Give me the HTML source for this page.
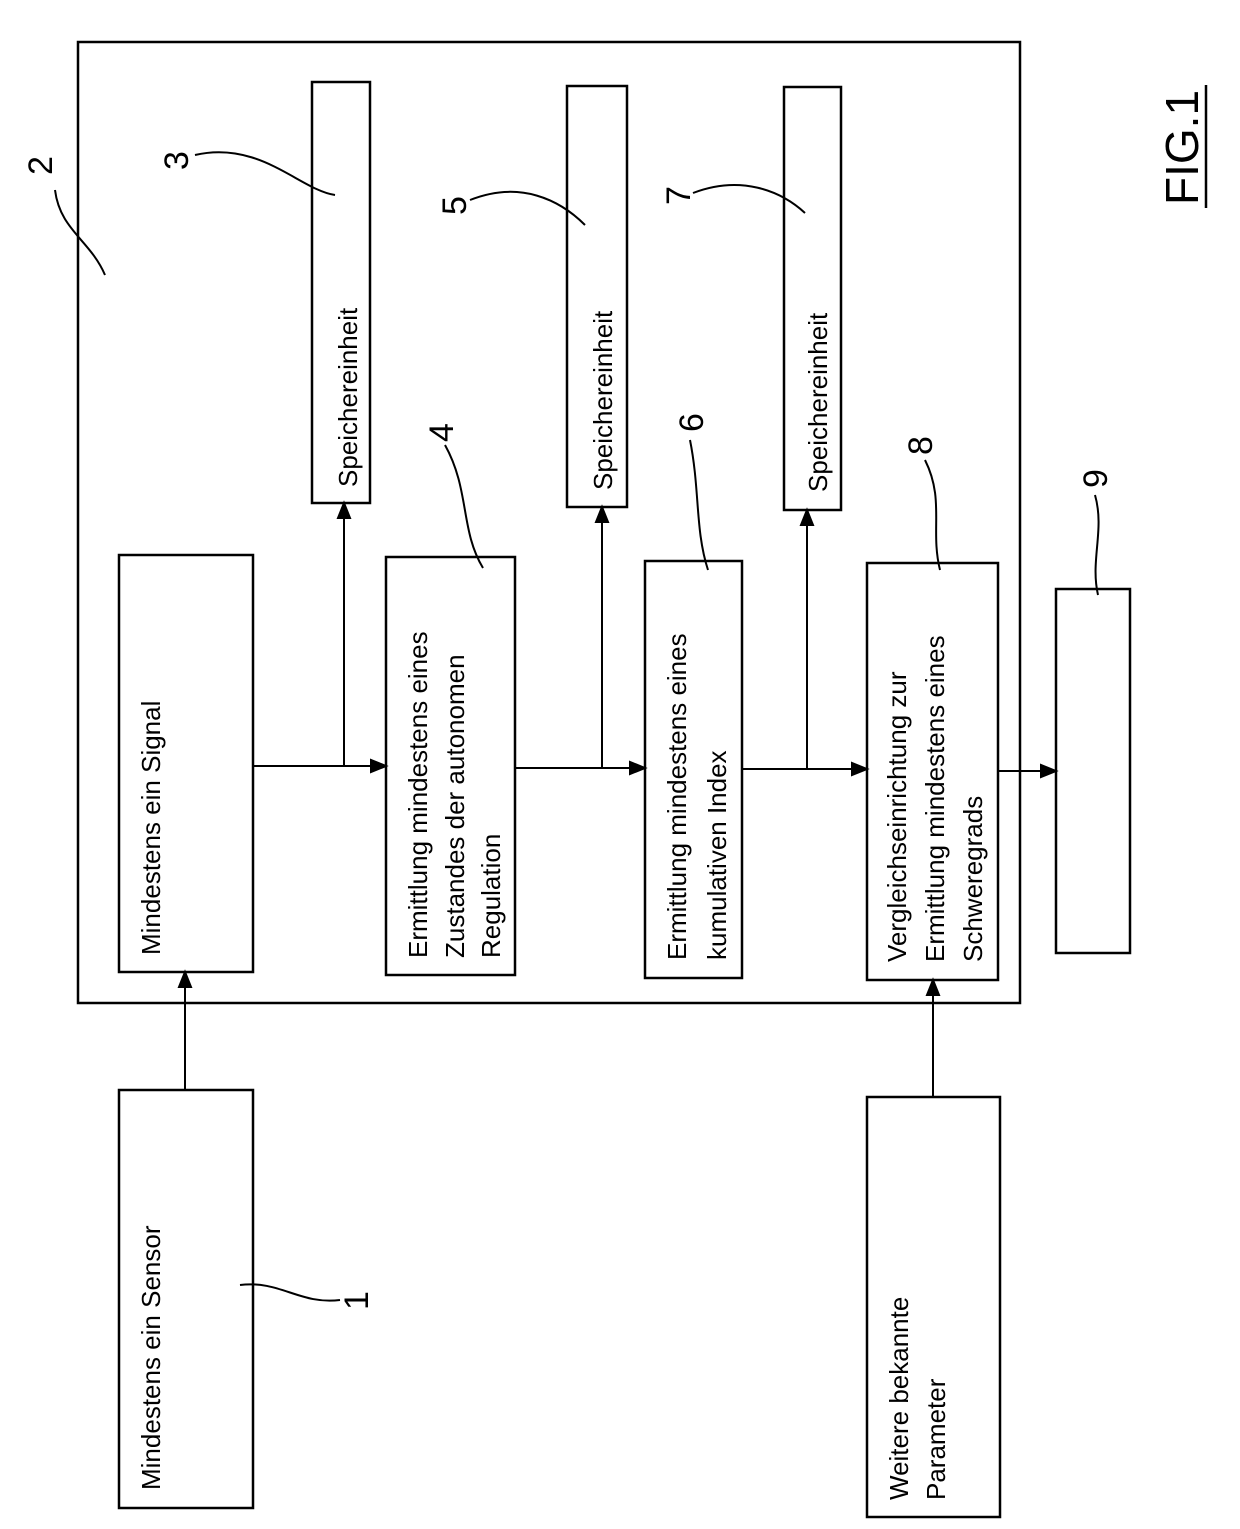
<!DOCTYPE html>
<html><head><meta charset="utf-8"><style>
html,body{margin:0;padding:0;background:#fff;}
svg{display:block;}
text{font-family:"Liberation Sans",sans-serif;fill:#000;}
</style></head><body>
<svg width="1240" height="1529" viewBox="0 0 1240 1529" xmlns="http://www.w3.org/2000/svg">
<defs><marker id="a" markerWidth="10" markerHeight="10" refX="9" refY="5" orient="auto" markerUnits="userSpaceOnUse"><path d="M0,0 L10,5 L0,10 z" fill="#000" transform="scale(1.6) translate(-3.5,-1.9)"/></marker></defs>
<g fill="none" stroke="#000" stroke-width="2.5">
<rect x="78" y="42" width="942" height="961"/>
<rect x="312" y="82" width="58" height="421"/>
<rect x="567" y="86" width="60" height="421"/>
<rect x="784" y="87" width="57" height="423"/>
<rect x="119" y="555" width="134" height="417"/>
<rect x="386" y="557" width="129" height="418"/>
<rect x="645" y="561" width="97" height="417"/>
<rect x="867" y="563" width="131" height="417"/>
<rect x="1056" y="589" width="74" height="364"/>
<rect x="119" y="1090" width="134" height="418"/>
<rect x="867" y="1097" width="133" height="420"/>
</g>
<g stroke="#000" stroke-width="2" fill="#000">
<line x1="253" y1="766" x2="372" y2="766"/><path d="M386,766 l-15,-6 v12 z"/>
<line x1="344" y1="766" x2="344" y2="518"/><path d="M344,503 l-6,15 h12 z"/>
<line x1="515" y1="768" x2="631" y2="768"/><path d="M645,768 l-15,-6 v12 z"/>
<line x1="602" y1="768" x2="602" y2="522"/><path d="M602,507 l-6,15 h12 z"/>
<line x1="742" y1="769" x2="853" y2="769"/><path d="M867,769 l-15,-6 v12 z"/>
<line x1="807" y1="769" x2="807" y2="525"/><path d="M807,510 l-6,15 h12 z"/>
<line x1="998" y1="771" x2="1042" y2="771"/><path d="M1056,771 l-15,-6 v12 z"/>
<line x1="185" y1="1090" x2="185" y2="987"/><path d="M185,972 l-6,15 h12 z"/>
<line x1="933" y1="1097" x2="933" y2="995"/><path d="M933,980 l-6,15 h12 z"/>
</g>
<g fill="none" stroke="#000" stroke-width="2">
<path d="M195,155 C260,140 300,190 335,195"/>
<path d="M470,200 C520,180 560,200 585,225"/>
<path d="M693,193 C740,175 780,190 805,213"/>
<path d="M445,445 C470,490 460,530 483,568"/>
<path d="M690,440 C700,490 695,530 708,570"/>
<path d="M925,460 C945,500 930,530 940,570"/>
<path d="M1095,495 C1105,530 1090,560 1098,595"/>
<path d="M55,190 C60,230 90,240 105,275"/>
<path d="M240,1285 C280,1280 300,1305 340,1300"/>
<line x1="1206" y1="85" x2="1206" y2="208" stroke-width="2.5"/>
</g>
<g font-size="26">
<text transform="translate(357,487) rotate(-90)">Speichereinheit</text>
<text transform="translate(612,490) rotate(-90)">Speichereinheit</text>
<text transform="translate(827,492) rotate(-90)">Speichereinheit</text>
<text transform="translate(160,955) rotate(-90)">Mindestens ein Signal</text>
<text transform="translate(427,958) rotate(-90)">Ermittlung mindestens eines</text>
<text transform="translate(464,958) rotate(-90)">Zustandes der autonomen</text>
<text transform="translate(500,958) rotate(-90)">Regulation</text>
<text transform="translate(686,960) rotate(-90)">Ermittlung mindestens eines</text>
<text transform="translate(726,960) rotate(-90)">kumulativen Index</text>
<text transform="translate(906,962) rotate(-90)">Vergleichseinrichtung zur</text>
<text transform="translate(944,962) rotate(-90)">Ermittlung mindestens eines</text>
<text transform="translate(982,962) rotate(-90)">Schweregrads</text>
<text transform="translate(160,1490) rotate(-90)">Mindestens ein Sensor</text>
<text transform="translate(908,1500) rotate(-90)">Weitere bekannte</text>
<text transform="translate(945,1500) rotate(-90)">Parameter</text>
</g>
<g font-size="34">
<text transform="translate(52,175) rotate(-90)">2</text>
<text transform="translate(188,170) rotate(-90)">3</text>
<text transform="translate(466,215) rotate(-90)">5</text>
<text transform="translate(690,205) rotate(-90)">7</text>
<text transform="translate(453,442) rotate(-90)">4</text>
<text transform="translate(703,432) rotate(-90)">6</text>
<text transform="translate(932,455) rotate(-90)">8</text>
<text transform="translate(1107,488) rotate(-90)">9</text>
<text transform="translate(368,1310) rotate(-90)">1</text>
</g>
<text transform="translate(1198,205) rotate(-90)" font-size="46">FIG.1</text>
</svg>
</body></html>
